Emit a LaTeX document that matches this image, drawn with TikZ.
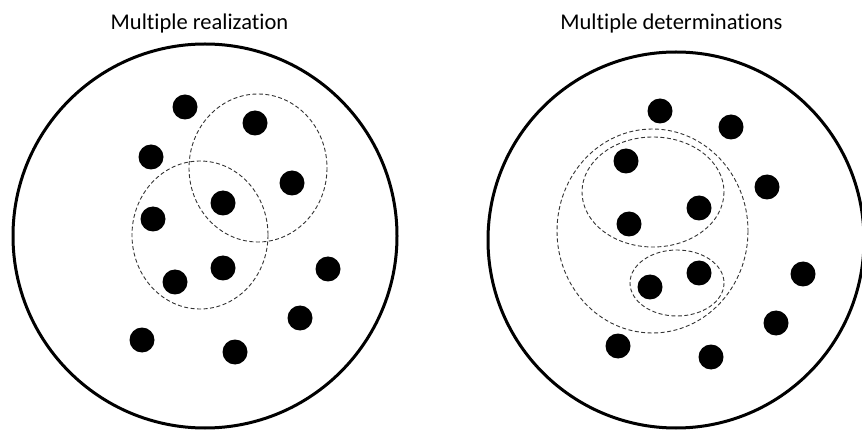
\documentclass[tikz,border=0pt]{standalone}
\usepackage{fontspec}
\setmainfont{Carlito}[Ligatures={NoCommon,NoRare,NoContextual}]
\begin{document}
\begin{tikzpicture}[x=1pt,y=-1pt,
  dot/.style={circle,fill=black,inner sep=0pt,minimum size=25pt},
  outer/.style={draw=black,line width=3pt},
  group/.style={draw=black!80,line width=0.9pt,dash pattern=on 4pt off 2.5pt},
  title/.style={anchor=base,font=\fontsize{22.5}{26}\selectfont,inner sep=0pt}]
\useasboundingbox (0,0) rectangle (862,430);
\fill[white] (0,0) rectangle (862,430);
% left panel
\node[title] (t1) at (199.5,29.5) {Multiple realization};
\draw[outer] (205,236) circle[radius=192];
\draw[group] (258,168) ellipse[x radius=69,y radius=74];
\draw[group] (200,235) ellipse[x radius=68,y radius=74];
\node[dot] (a1) at (185,107) {};
\node[dot] (a2) at (255,123) {};
\node[dot] (a3) at (151,157) {};
\node[dot] (a4) at (292,183) {};
\node[dot] (a5) at (223,203) {};
\node[dot] (a6) at (153,219) {};
\node[dot] (a7) at (223,268) {};
\node[dot] (a8) at (175,282) {};
\node[dot] (a9) at (328,269) {};
\node[dot] (a10) at (300,318) {};
\node[dot] (a11) at (142,340) {};
\node[dot] (a12) at (235,352) {};
% right panel
\node[title] (t2) at (671.5,29.5) {Multiple determinations};
\draw[outer] (676,240) circle[radius=188];
\draw[group] (652.5,231) ellipse[x radius=95.5,y radius=102];
\draw[group] (653,192) ellipse[x radius=71,y radius=55];
\draw[group] (677,283) ellipse[x radius=47,y radius=33];
\node[dot] (b1) at (660,111) {};
\node[dot] (b2) at (731,127) {};
\node[dot] (b3) at (626,161) {};
\node[dot] (b4) at (767,187) {};
\node[dot] (b5) at (699,208) {};
\node[dot] (b6) at (629,224) {};
\node[dot] (b7) at (803,274) {};
\node[dot] (b8) at (699,273) {};
\node[dot] (b9) at (650,287) {};
\node[dot] (b10) at (776,323) {};
\node[dot] (b11) at (618,346) {};
\node[dot] (b12) at (711,357) {};
\end{tikzpicture}
\end{document}
